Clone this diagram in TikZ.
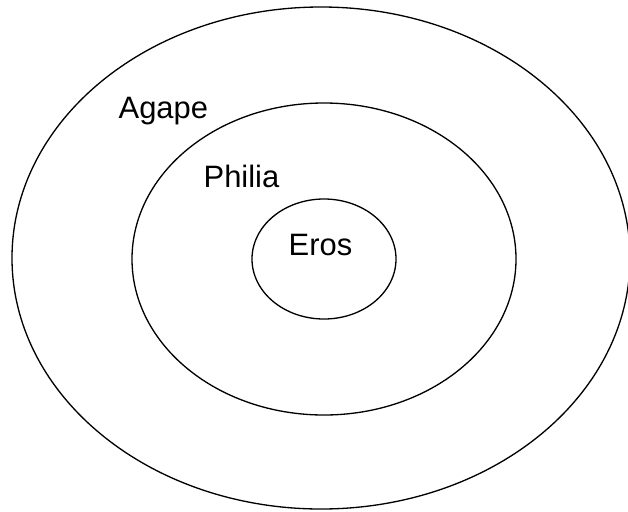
\documentclass[tikz,border=0pt]{standalone}
\usepackage{fontspec}
\setmainfont{Liberation Sans}

\begin{document}
\begin{tikzpicture}[x=0.02cm, y=-0.02cm, line width=0.75pt,
  lbl/.style={anchor=base west, inner sep=0pt, font=\fontsize{17.6}{20}\selectfont}]
  \useasboundingbox (0,0) rectangle (628,511);
  \draw (321,258) ellipse [x radius=309, y radius=251];
  \draw (324,259) ellipse [x radius=192, y radius=156];
  \draw (324,259) ellipse [x radius=72, y radius=60];
  \node[lbl] (agape) at (118,118) {Agape};
  \node[lbl] (philia) at (203,187) {Philia};
  \node[lbl] (eros) at (288,255) {Eros};
\end{tikzpicture}
\end{document}
